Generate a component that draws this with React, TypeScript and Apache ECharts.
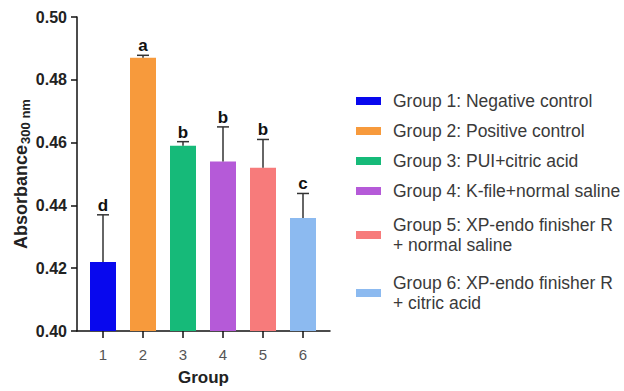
import React, { useEffect, useRef } from "react";
import * as echarts from "echarts";

const groupPositions = [1, 2, 3, 4, 5, 6];
const groupLabels = ["1", "2", "3", "4", "5", "6"];
const meanValues = [0.422, 0.487, 0.459, 0.454, 0.452, 0.436];
const errorTops = [0.437, 0.4878, 0.4603, 0.465, 0.461, 0.4438];
const letters = ["d", "a", "b", "b", "b", "c"];
const groupNames = [
  "Group 1: Negative control",
  "Group 2: Positive control",
  "Group 3: PUI+citric acid",
  "Group 4: K-file+normal saline",
  "Group 5: XP-endo finisher R\n+ normal saline",
  "Group 6: XP-endo finisher R\n+ citric acid",
];
const groupColors = ["#0808ee", "#f79a3c", "#16ba79", "#b55ad8", "#f77b7b", "#8cbaf0"];
const yTicks = [0.4, 0.42, 0.44, 0.46, 0.48, 0.5];
const legendCenters = [101, 131, 161, 191, 235, 293];

export default function App() {
  const ref = useRef<HTMLDivElement>(null);
  useEffect(() => {
    if (!ref.current) return;
    const chart = echarts.init(ref.current, null, { renderer: "svg" });
    const barSeries = groupNames.map((name, i) => ({
      name,
      type: "bar",
      stack: "all",
      barWidth: 26,
      itemStyle: { color: groupColors[i] },
      data: [[groupPositions[i], meanValues[i]]],
      z: 2,
    }));
    const legends = groupNames.map((name, i) => {
      const lines = name.split("\n").length;
      return {
        data: [name],
        orient: "vertical",
        left: 356,
        top: legendCenters[i] - lines * 10,
        padding: 0,
        itemWidth: 25,
        itemHeight: 8,
        icon: "rect",
        selectedMode: false,
        textStyle: {
          fontFamily: "Liberation Sans, Arial, sans-serif",
          fontSize: 17.5,
          lineHeight: 20,
          color: "#3a3a3a",
          padding: [0, 0, 0, 7],
        },
      };
    });
    const option = {
      animation: false,
      backgroundColor: "#ffffff",
      legend: legends,
      grid: { left: 77, right: 294, top: 17, bottom: 53, containLabel: false },
      xAxis: {
        type: "value",
        min: 0.35,
        max: 6.675,
        name: "Group",
        nameLocation: "middle",
        nameGap: 38,
        nameTextStyle: {
          fontFamily: "Liberation Sans, Arial, sans-serif",
          fontSize: 17,
          fontWeight: "bold",
          color: "#222",
        },
        splitLine: { show: false },
        axisLine: { show: true, lineStyle: { color: "#111", width: 1.5 } },
        axisTick: {
          show: true,
          length: 7,
          customValues: groupPositions,
          lineStyle: { color: "#111", width: 1.5 },
        },
        axisLabel: {
          customValues: groupPositions,
          formatter: (v: number) => groupLabels[groupPositions.indexOf(v)] ?? "",
          fontFamily: "Liberation Sans, Arial, sans-serif",
          fontSize: 15,
          color: "#555",
          margin: 16,
        },
      },
      yAxis: {
        type: "value",
        min: 0.4,
        max: 0.5,
        interval: 0.02,
        name: "{a|Absorbance}{s|300 nm}",
        nameLocation: "middle",
        nameGap: 46,
        nameTextStyle: {
          rich: {
            a: {
              fontFamily: "Liberation Sans, Arial, sans-serif",
              fontSize: 18,
              fontWeight: "bold",
              color: "#222",
              lineHeight: 21,
            },
            s: {
              fontFamily: "Liberation Sans, Arial, sans-serif",
              fontSize: 13,
              fontWeight: "bold",
              color: "#222",
              lineHeight: 13,
              padding: [9, 0, 0, 1],
            },
          },
        },
        splitLine: { show: false },
        axisLine: { show: true, lineStyle: { color: "#111", width: 1.5 } },
        axisTick: { show: true, length: 6, lineStyle: { color: "#111", width: 1.5 } },
        axisLabel: {
          formatter: (v: number) => (yTicks.some((t) => Math.abs(t - v) < 1e-9) ? v.toFixed(2) : ""),
          fontFamily: "Liberation Sans, Arial, sans-serif",
          fontSize: 16,
          fontWeight: "bold",
          color: "#222",
          margin: 10,
        },
      },
      series: [
        ...barSeries,
        {
          name: "errors",
          type: "custom",
          z: 5,
          data: groupPositions.map((x, i) => [x, meanValues[i], errorTops[i]]),
          renderItem: (params: any, api: any) => {
            const x = api.value(0);
            const base = api.coord([x, api.value(1)]);
            const top = api.coord([x, api.value(2)]);
            const cap = 6;
            return {
              type: "group",
              children: [
                {
                  type: "line",
                  shape: { x1: base[0], y1: base[1], x2: top[0], y2: top[1] },
                  style: { stroke: "#333", lineWidth: 1.5 },
                },
                {
                  type: "line",
                  shape: { x1: top[0] - cap, y1: top[1], x2: top[0] + cap, y2: top[1] },
                  style: { stroke: "#333", lineWidth: 1.5 },
                },
                {
                  type: "text",
                  style: {
                    text: letters[params.dataIndex],
                    x: top[0],
                    y: top[1] - 1,
                    align: "center",
                    verticalAlign: "bottom",
                    fontFamily: "Liberation Sans, Arial, sans-serif",
                    fontSize: 17,
                    fontWeight: "bold",
                    fill: "#111",
                  },
                },
              ],
            };
          },
        },
      ],
    };
    chart.setOption(option as any);
    return () => chart.dispose();
  }, []);
  return <div ref={ref} style={{ width: 624, height: 391, position: "absolute", left: 0, top: 0 }} />;
}
